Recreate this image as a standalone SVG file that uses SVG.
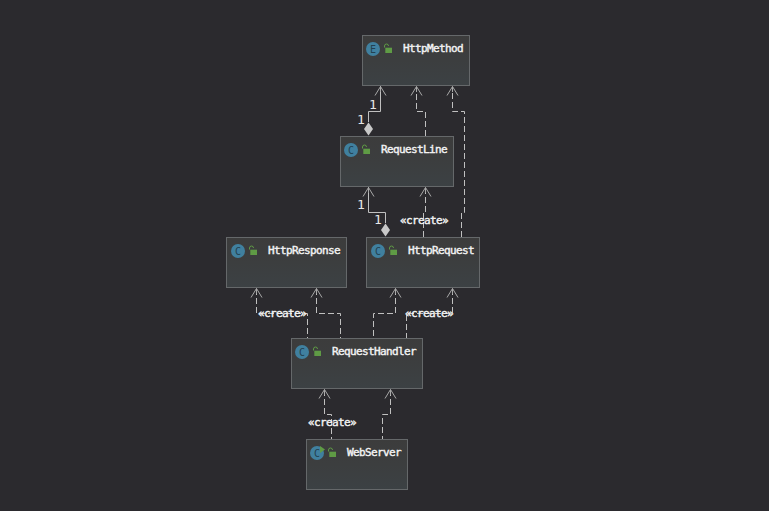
<svg xmlns="http://www.w3.org/2000/svg" width="769" height="511" viewBox="0 0 769 511">
<style>
.box{fill:url(#nf);stroke:#65686a;stroke-width:1}
.ic{fill:#40809f}
.il{font:10px "DejaVu Sans Mono",monospace;fill:#234150;text-anchor:middle}
.t{font:11px "DejaVu Sans Mono",monospace;letter-spacing:-0.62px;fill:#f4f4f4;stroke:#f4f4f4;stroke-width:.4}
.l{font:11px "DejaVu Sans Mono",monospace;letter-spacing:-0.62px;fill:#f4f4f4;stroke:#f4f4f4;stroke-width:.4;text-anchor:middle}
.n{font:13px "DejaVu Sans Mono",monospace;fill:#e6e6e6;text-anchor:middle}
.s{fill:none;stroke:#c0c0c0;stroke-width:1}
.d{fill:none;stroke:#c0c0c0;stroke-width:1;stroke-dasharray:6 3}
.a{fill:none;stroke:#a8a8a8;stroke-width:1}
.k{fill:#c8c8c8}
.lk{fill:#5f9b45}
.ls{fill:none;stroke:#5f9b45;stroke-width:1}
</style>
<defs>
<linearGradient id="nf" x1="0" y1="0" x2="0" y2="1"><stop offset="0" stop-color="#3c3c3c"/><stop offset="0.5" stop-color="#3c3e3f"/><stop offset="1" stop-color="#3c4144"/></linearGradient>
<g id="lock"><rect x="-1.700" y="-1.300" width="6.700" height="5.300" class="lk"/><path d="M-2.500 -1.500V-3A1.800 1.800 0 0 1 1.500 -3" class="ls"/></g>
<path id="ah" d="M-5.500 9.500L0 0.500L5.500 9.500M0 0.500V6" class="a"/>
</defs>
<rect width="769" height="511" fill="#2b2a2e"/>
<g id="connectors">
<path d="M380.500 86V111.500H368.500V122" class="s"/>
<path d="M425.500 136V111.500H416.500V87" class="d"/>
<path d="M461.500 237V212.500H464.500V111.500H452.500V87" class="d"/>
<path d="M368.500 187V212.500H385.500V223" class="s"/>
<path d="M423.500 237V212.500H425.500V188" class="d"/>
<path d="M256.500 289V313.500H307.500V338" class="d"/>
<path d="M316.500 289V313.500H340.500V338" class="d"/>
<path d="M395.500 289V313.500H373.500V338" class="d"/>
<path d="M452.500 289V313.500H406.500V338" class="d"/>
<path d="M324.500 390V414.500H331.500V439" class="d"/>
<path d="M390.500 390V414.500H382.500V439" class="d"/>
<use href="#ah" x="380.500" y="86"/>
<use href="#ah" x="416.500" y="86"/>
<use href="#ah" x="452.500" y="86"/>
<use href="#ah" x="368.500" y="187"/>
<use href="#ah" x="425.500" y="187"/>
<use href="#ah" x="256.500" y="288"/>
<use href="#ah" x="316.500" y="288"/>
<use href="#ah" x="395.500" y="288"/>
<use href="#ah" x="452.500" y="288"/>
<use href="#ah" x="324.500" y="389"/>
<use href="#ah" x="390.500" y="389"/>
<path d="M368.500 122.500L373 129L368.500 135.500L364 129Z" class="k"/>
<path d="M385.500 223.500L390 230L385.500 236.500L381 230Z" class="k"/>
<text x="373" y="109" class="n">1</text>
<text x="361" y="124" class="n">1</text>
<text x="361" y="209" class="n">1</text>
<text x="378" y="224" class="n">1</text>
<text x="424" y="224" class="l">«create»</text>
<text x="282" y="317" class="l">«create»</text>
<text x="429" y="317" class="l">«create»</text>
<text x="332" y="426" class="l">«create»</text>
</g>
<g id="HttpMethod"><rect x="362.500" y="35.500" width="107" height="50" class="box"/><circle cx="373" cy="49" r="7" class="ic"/><text x="373" y="52.500" class="il">E</text><use href="#lock" x="387" y="49"/><text x="403" y="52" class="t">HttpMethod</text></g>
<g id="RequestLine"><rect x="340.500" y="136.500" width="113" height="50" class="box"/><circle cx="351" cy="150" r="7" class="ic"/><text x="351" y="153.500" class="il">C</text><use href="#lock" x="365" y="150"/><text x="381" y="153" class="t">RequestLine</text></g>
<g id="HttpResponse"><rect x="226.500" y="237.500" width="120" height="50" class="box"/><circle cx="238" cy="251" r="7" class="ic"/><text x="238" y="254.500" class="il">C</text><use href="#lock" x="252" y="251"/><text x="268" y="254" class="t">HttpResponse</text></g>
<g id="HttpRequest"><rect x="366.500" y="237.500" width="113" height="50" class="box"/><circle cx="378" cy="251" r="7" class="ic"/><text x="378" y="254.500" class="il">C</text><use href="#lock" x="392" y="251"/><text x="408" y="254" class="t">HttpRequest</text></g>
<g id="RequestHandler"><rect x="291.500" y="338.500" width="131" height="50" class="box"/><circle cx="302" cy="352" r="7" class="ic"/><text x="302" y="355.500" class="il">C</text><use href="#lock" x="316" y="352"/><text x="332" y="355" class="t">RequestHandler</text></g>
<g id="WebServer"><rect x="306.500" y="439.500" width="101" height="50" class="box"/><circle cx="317" cy="453" r="7" class="ic"/><text x="317" y="456.500" class="il">C</text><path d="M320 446L325 449.500L320 453Z" fill="#5f9b45"/><use href="#lock" x="331" y="453"/><text x="347" y="456" class="t">WebServer</text></g>
</svg>
